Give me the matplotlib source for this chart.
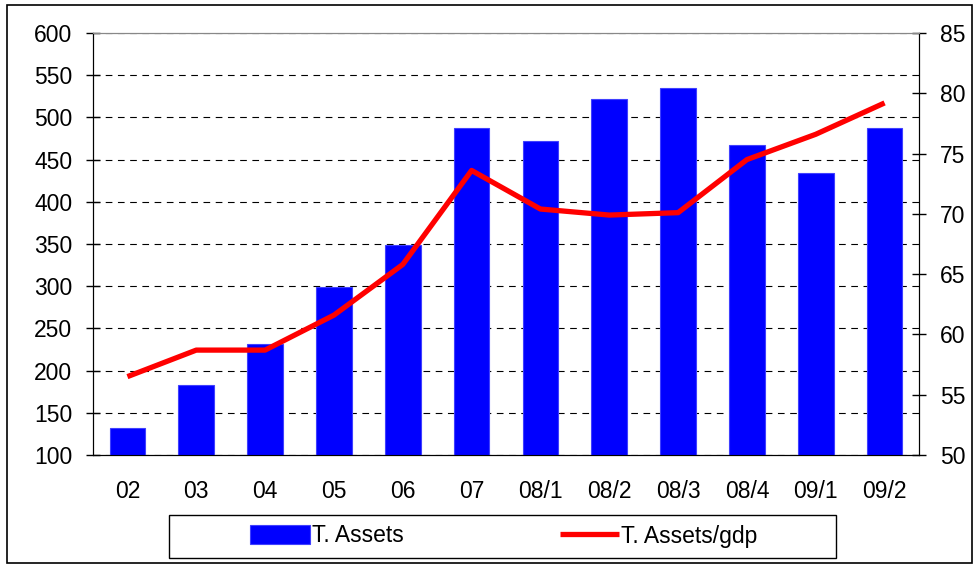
import matplotlib.pyplot as plt
from matplotlib.patches import Rectangle

plt.rcParams['font.family'] = ['Liberation Sans', 'DejaVu Sans']

periods = ['02', '03', '04', '05', '06', '07', '08/1', '08/2', '08/3', '08/4', '09/1', '09/2']
assets = [132, 183, 231, 299, 349, 487, 472, 522, 535, 467, 434, 487]
assets_gdp = [56.5, 58.7, 58.7, 61.6, 65.8, 73.6, 70.4, 69.9, 70.1, 74.5, 76.6, 79.2]

fig = plt.figure(figsize=(9.79, 5.67), dpi=100)
ax = fig.add_axes([93 / 979, 1 - 455 / 567, 826 / 979, 422 / 567])
ax2 = ax.twinx()

x = list(range(len(periods)))
bars = ax.bar(x, assets, width=0.52, color='#0000FF', edgecolor='#4040FF', linewidth=0.8, zorder=3,
              label='T. Assets')
line, = ax2.plot(x, assets_gdp, color='#FF0000', linewidth=3.8, solid_capstyle='butt', zorder=4,
                 label='T. Assets/gdp')

ax.set_xlim(-0.5, len(periods) - 0.5)
ax.set_ylim(100, 600)
ax.set_yticks(range(100, 601, 50))
ax2.set_ylim(50, 85)
ax2.set_yticks(range(50, 86, 5))
ax.set_xticks(x)
ax.set_xticklabels(periods)

ax.yaxis.grid(True, linestyle=(0, (6, 5)), color='black', linewidth=0.8, zorder=0)
ax.set_axisbelow(True)

for a in (ax, ax2):
    a.tick_params(axis='y', direction='inout', length=10, width=1, labelsize=16.5, pad=10)
    a.spines['top'].set_color('#888888')
ax.tick_params(axis='x', length=0, labelsize=16.5, pad=18)
ax2.set_zorder(ax.get_zorder() + 1)
ax2.patch.set_visible(False)

fig.patches.append(Rectangle((169 / 979, 1 - 558 / 567), 667 / 979, 43 / 567,
                             transform=fig.transFigure, fill=False, edgecolor='black', linewidth=1.0))
leg = fig.legend([bars, line], ['T. Assets', 'T. Assets/gdp'], ncol=2,
                 loc='center', bbox_to_anchor=(504 / 979, 1 - 536 / 567),
                 frameon=False, fontsize=16.5, handlelength=2.6, handleheight=0.9,
                 handletextpad=0.1, columnspacing=6.8)

fig.patches.append(Rectangle((7 / 979, 1 - 563 / 567), 965 / 979, 558 / 567,
                             transform=fig.transFigure, fill=False, edgecolor='black', linewidth=1.2))

fig.savefig('out.png', dpi=100)
